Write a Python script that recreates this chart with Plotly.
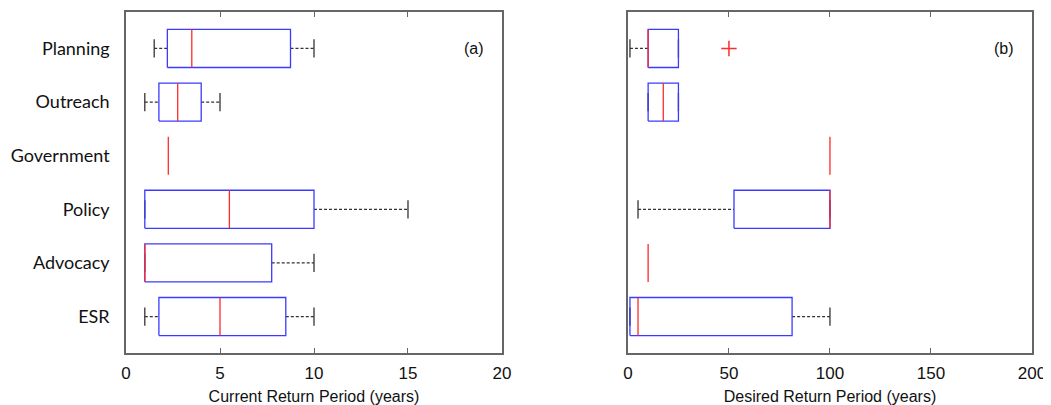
import plotly.graph_objects as go
from plotly.subplots import make_subplots

categories = ["Planning", "Outreach", "Government", "Policy", "Advocacy", "ESR"]

# Panel (a): Current Return Period (years)
cur_low = [1.5, 1.0, 2.25, 1.0, 1.0, 1.0]
cur_q1 = [2.2, 1.75, 2.25, 1.0, 1.0, 1.75]
cur_med = [3.5, 2.75, 2.25, 5.5, 1.0, 5.0]
cur_q3 = [8.75, 4.0, 2.25, 10.0, 7.75, 8.5]
cur_high = [10.0, 5.0, 2.25, 15.0, 10.0, 10.0]
cur_out = [[], [], [], [], [], []]

# Panel (b): Desired Return Period (years)
des_low = [1.0, 10.0, 100.0, 5.0, 10.0, 1.0]
des_q1 = [10.0, 10.0, 100.0, 52.5, 10.0, 1.0]
des_med = [10.0, 17.5, 100.0, 100.0, 10.0, 5.0]
des_q3 = [25.0, 25.0, 100.0, 100.0, 10.0, 81.25]
des_high = [25.0, 25.0, 100.0, 100.0, 10.0, 100.0]
des_out = [[50.0], [], [], [], [], []]

x_ticks_a = [0, 5, 10, 15, 20]
x_ticks_b = [0, 50, 100, 150, 200]

BOX_H = 0.355
CAP_H = 0.17
BLUE = "#3b3bff"
RED = "#ff2a2a"
DARK = "#333333"
FRAME = "#666666"

fig = make_subplots(rows=1, cols=2, horizontal_spacing=0.0)


def add_boxes(col, low, q1, med, q3, high, outs):
    n = len(categories)
    ypos = [n - i for i in range(n)]
    wx, wy, cx, cy, bx, by, mx, my, ox, oy = [], [], [], [], [], [], [], [], [], []
    for i in range(n):
        y = ypos[i]
        if low[i] < q1[i]:
            wx += [low[i], q1[i], None]
            wy += [y, y, None]
        if high[i] > q3[i]:
            wx += [q3[i], high[i], None]
            wy += [y, y, None]
        if not (low[i] == q1[i] == med[i] == q3[i] == high[i]):
            for v in (low[i], high[i]):
                cx += [v, v, None]
                cy += [y - CAP_H, y + CAP_H, None]
        if q3[i] > q1[i]:
            bx += [q1[i], q3[i], q3[i], q1[i], q1[i], None]
            by += [y - BOX_H, y - BOX_H, y + BOX_H, y + BOX_H, y - BOX_H, None]
        mx += [med[i], med[i], None]
        my += [y - BOX_H, y + BOX_H, None]
        for o in outs[i]:
            ox.append(o)
            oy.append(y)
    common = dict(mode="lines", showlegend=False, hoverinfo="skip", cliponaxis=False)
    fig.add_trace(go.Scatter(x=wx, y=wy, line=dict(color=DARK, width=1.2, dash="3px,2px"), **common), row=1, col=col)
    fig.add_trace(go.Scatter(x=cx, y=cy, line=dict(color=DARK, width=1.3), **common), row=1, col=col)
    fig.add_trace(go.Scatter(x=bx, y=by, line=dict(color=BLUE, width=1.3), **common), row=1, col=col)
    fig.add_trace(go.Scatter(x=mx, y=my, line=dict(color=RED, width=1.3), **common), row=1, col=col)
    if ox:
        fig.add_trace(go.Scatter(x=ox, y=oy, mode="markers", showlegend=False, hoverinfo="skip",
                                 marker=dict(symbol="cross-thin", size=11, line=dict(color=RED, width=1.5))),
                      row=1, col=col)


add_boxes(1, cur_low, cur_q1, cur_med, cur_q3, cur_high, cur_out)
add_boxes(2, des_low, des_q1, des_med, des_q3, des_high, des_out)

tickfont = dict(family="Liberation Sans, Arial, sans-serif", size=17, color="#111111")
titlefont = dict(family="Liberation Sans, Arial, sans-serif", size=16, color="#111111")

xcommon = dict(showline=True, mirror="ticks", linecolor=FRAME, linewidth=1.5, ticks="inside",
               ticklen=5, tickcolor=FRAME, tickwidth=1.2, showgrid=False, zeroline=False,
               tickfont=tickfont, ticklabelstandoff=4, title_standoff=10, automargin=False)
fig.update_xaxes(range=[0, 20], tickvals=x_ticks_a, domain=[0, 0.415],
                 title=dict(text="Current Return Period (years)", font=titlefont), row=1, col=1, **xcommon)
fig.update_xaxes(range=[0, 200], tickvals=x_ticks_b, domain=[0.554, 1.0],
                 title=dict(text="Desired Return Period (years)", font=titlefont), row=1, col=2, **xcommon)

n = len(categories)
ycommon = dict(range=[0.32, 6.68], showline=True, mirror=True, linecolor=FRAME, linewidth=1.5,
               ticks="", showgrid=False, zeroline=False, tickvals=[n - i for i in range(n)],
               automargin=False)
fig.update_yaxes(ticktext=categories, showticklabels=True, ticklabelstandoff=11,
                 tickfont=dict(family="Lato, Open Sans, sans-serif", size=18, color="#111111"),
                 row=1, col=1, **ycommon)
fig.update_yaxes(showticklabels=False, row=1, col=2, **ycommon)

fig.add_annotation(x=18.5, y=6, xref="x", yref="y", text="(a)", showarrow=False,
                   font=dict(family="Liberation Sans, Arial, sans-serif", size=16, color="#111111"))
fig.add_annotation(x=186, y=6, xref="x2", yref="y2", text="(b)", showarrow=False,
                   font=dict(family="Liberation Sans, Arial, sans-serif", size=16, color="#111111"))

# page body keeps an 8px default margin, so the figure is offset accordingly
fig.update_layout(width=1043, height=397, margin=dict(l=118, r=19, t=4, b=52),
                  plot_bgcolor="white", paper_bgcolor="white")

fig.write_html("out.html")
